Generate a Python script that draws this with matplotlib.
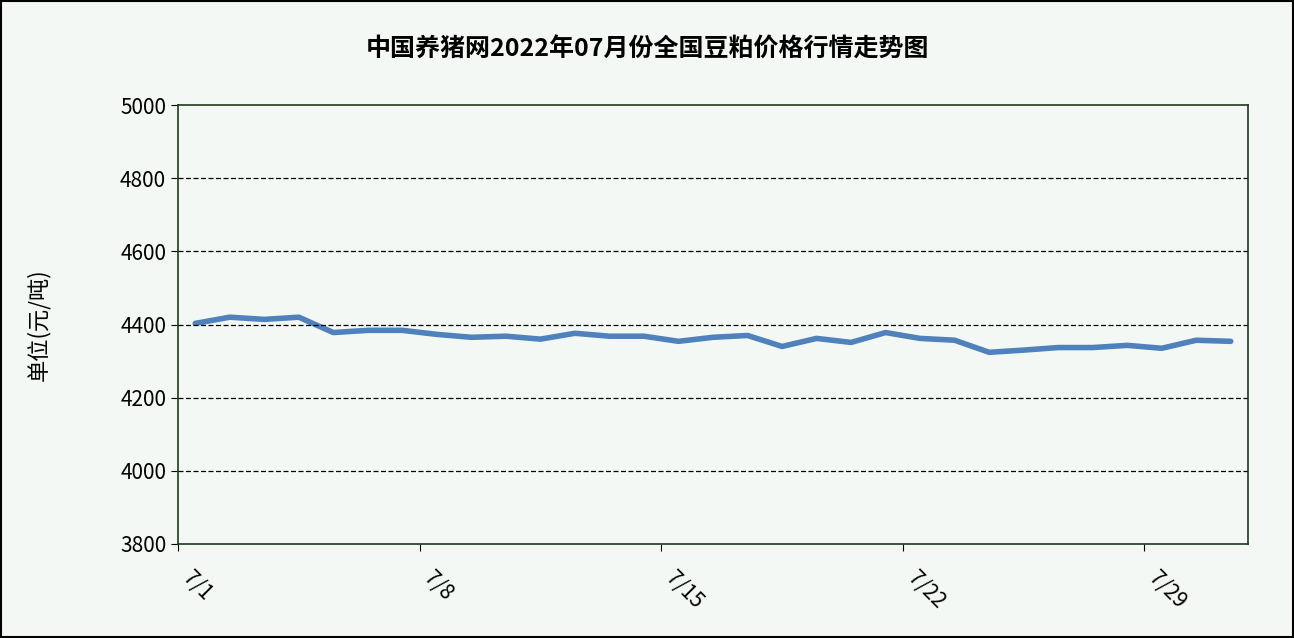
import matplotlib
matplotlib.use("Agg")
import matplotlib.pyplot as plt
from matplotlib.patches import Rectangle

plt.rcParams['font.family'] = ['Noto Sans CJK SC', 'DejaVu Sans']

days = [f"7/{d}" for d in range(1, 32)]
prices = [4403, 4420, 4414, 4420, 4378, 4384, 4384, 4373, 4365, 4368, 4360,
          4376, 4368, 4368, 4354, 4365, 4370, 4340, 4362, 4351, 4378, 4362,
          4357, 4324, 4330, 4337, 4337, 4343, 4335, 4357, 4354]
tick_labels = ["7/1", "7/8", "7/15", "7/22", "7/29"]

bg = "#f4f8f4"
fig = plt.figure(figsize=(12.94, 6.38), dpi=100, facecolor=bg)
ax = fig.add_axes([178/1294, 1-544/638, (1248-178)/1294, (544-105)/638], facecolor=bg)

x = [i + 0.5 for i in range(len(days))]
ax.plot(x, prices, color="#4f81bd", lw=4, solid_capstyle="round")
ax.set_xlim(0, len(days))
ax.set_ylim(3800, 5000)
ax.set_yticks(range(3800, 5001, 200))
ax.set_xticks([days.index(t) for t in tick_labels])
ax.set_xticklabels(tick_labels, rotation=-45, ha="left", va="top", fontsize=15)
ax.tick_params(axis="y", labelsize=15, length=5, direction="out")
ax.tick_params(axis="x", length=5, direction="out", pad=12)
for y in range(4000, 5000, 200):
    ax.axhline(y, color="black", ls=(0, (4, 2)), lw=0.9)
for s in ax.spines.values():
    s.set_color("#1d3b1d")
    s.set_linewidth(1.2)
ax.set_ylabel("单位(元/吨)", fontsize=16, labelpad=50)
fig.text(0.5, 1-50/638, "中国养猪网2022年07月份全国豆粕价格行情走势图", ha="center", va="center",
         fontsize=18, fontweight="bold")
fig.patches.append(Rectangle((0.001, 0.001), 0.998, 0.997, transform=fig.transFigure,
                             fill=False, edgecolor="black", lw=1.5))
fig.savefig("out.png", dpi=100, facecolor=bg)
